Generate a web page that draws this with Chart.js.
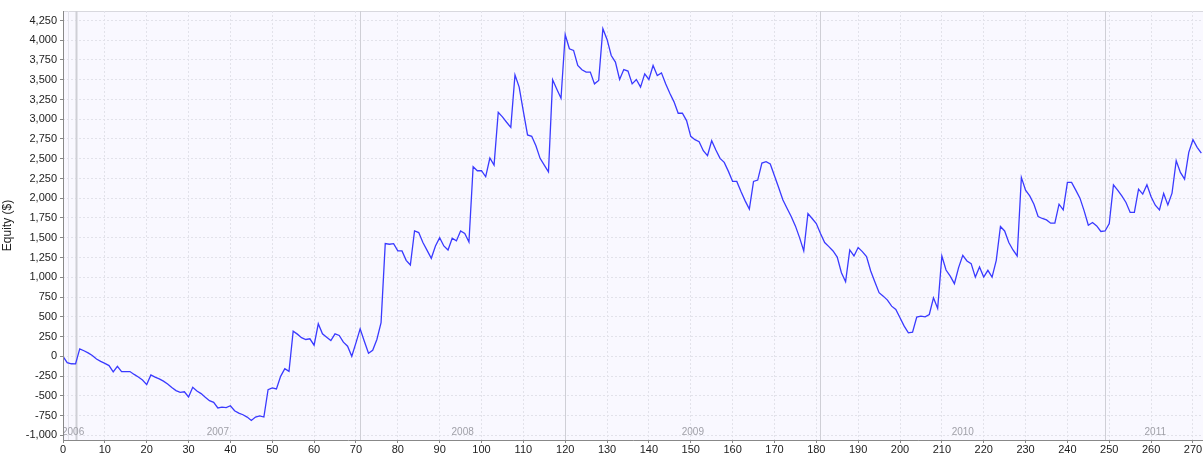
<!DOCTYPE html>
<html>
<head>
<meta charset="utf-8">
<script src="https://cdn.jsdelivr.net/npm/chart.js@4"></script>
<style>
  html, body { margin: 0; padding: 0; background: #fff; }
  #wrap { width: 1203px; height: 456px; }
</style>
</head>
<body>
<div id="wrap"><canvas id="equityChart"></canvas></div>
<script>
// equity per trade
const equity = [
    0, -80, -95, -97, 94, 70, 43, 10, -35, -65,
    -90, -118, -198, -127, -194, -194, -194, -230, -262, -300,
    -359, -236, -265, -287, -315, -350, -395, -435, -457, -450,
    -515, -393, -440, -473, -520, -562, -584, -655, -645, -650,
    -626, -690, -720, -740, -770, -812, -770, -755, -769, -423,
    -401, -414, -254, -156, -190, 317, 280, 235, 212, 221,
    140, 411, 284, 240, 199, 284, 263, 178, 127, 0,
    170, 347, 190, 38, 76, 212, 424, 1426, 1418, 1426,
    1333, 1333, 1214, 1155, 1586, 1566, 1439, 1340, 1240, 1396,
    1502, 1396, 1345, 1494, 1460, 1586, 1553, 1447, 2398, 2348,
    2348, 2272, 2509, 2420, 3089, 3030, 2962, 2898, 3562, 3406,
    3100, 2801, 2784, 2665, 2505, 2420, 2335, 3499, 3380, 3266,
    4070, 3892, 3871, 3680, 3626, 3597, 3597, 3448, 3490, 4146,
    4010, 3807, 3723, 3503, 3629, 3609, 3448, 3503, 3406, 3575,
    3503, 3680, 3553, 3587, 3448, 3330, 3220, 3076, 3076, 2983,
    2784, 2741, 2716, 2601, 2538, 2728, 2610, 2505, 2454, 2340,
    2213, 2213, 2086, 1967, 1862, 2213, 2230, 2445, 2462, 2433,
    2284, 2137, 1980, 1874, 1769, 1650, 1502, 1333, 1807, 1744,
    1680, 1553, 1439, 1388, 1333, 1256, 1058, 944, 1345, 1269,
    1376, 1325, 1261, 1079, 939, 805, 761, 711, 634, 593,
    487, 381, 296, 305, 495, 508, 499, 529, 740, 605,
    1269, 1091, 1015, 919, 1122, 1278, 1206, 1172, 1002, 1129,
    1002, 1088, 1002, 1214, 1642, 1586, 1439, 1345, 1269, 2264,
    2103, 2030, 1925, 1769, 1744, 1726, 1684, 1684, 1925, 1853,
    2200, 2200, 2103, 2001, 1840, 1659, 1693, 1650, 1579, 1586,
    1680, 2170, 2103, 2030, 1946, 1820, 1820, 2115, 2052, 2170,
    2018, 1912, 1853, 2061, 1916, 2065, 2475, 2327, 2242, 2581,
    2741, 2645, 2572
];

// axis ticks
const yTicks = [-1000, -750, -500, -250, 0, 250, 500, 750, 1000, 1250, 1500, 1750, 2000,
    2250, 2500, 2750, 3000, 3250, 3500, 3750, 4000, 4250];
const xTicks = [0, 10, 20, 30, 40, 50, 60, 70, 80, 90, 100, 110, 120, 130, 140, 150, 160,
    170, 180, 190, 200, 210, 220, 230, 240, 250, 260, 270];

// trade index where each year starts
const yearStarts = [0, 3, 71, 120, 181, 249];
const yearNames = ["2006", "2007", "2008", "2009", "2010", "2011"];
const yearLines = [1.2, 3, 71, 120, 181, 249];

const xMax = 272.4;
const fontFamily = "'Liberation Sans', Arial, sans-serif";

// Year markers plugin
const yearMarkers = {
    id: "yearMarkers",
    beforeDatasetsDraw(chart) {
        const { ctx, chartArea, scales } = chart;
        const x = scales.x;
        ctx.save();
        ctx.beginPath();
        ctx.rect(chartArea.left, chartArea.top, chartArea.right - chartArea.left, chartArea.bottom - chartArea.top);
        ctx.clip();

        yearLines.forEach(v => {
            const px = Math.round(x.getPixelForValue(v)) + 0.5;
            ctx.strokeStyle = v === 1.2 ? "#e2e2ea" : "#cfcfd6";
            ctx.lineWidth = v === 3 ? 2 : 1;
            ctx.beginPath();
            ctx.moveTo(px, chartArea.top);
            ctx.lineTo(px, chartArea.bottom);
            ctx.stroke();
        });

        ctx.fillStyle = "#a0a0a8";
        ctx.font = "10px " + fontFamily;
        ctx.textAlign = "center";
        ctx.textBaseline = "alphabetic";
        yearNames.forEach((name, i) => {
            const end = i + 1 < yearStarts.length ? yearStarts[i + 1] : 273;
            const w = ctx.measureText(name).width;
            let px = x.getPixelForValue((yearStarts[i] + end) / 2);
            px = Math.max(px, chartArea.left + w / 2 - 1);
            ctx.fillText(name, px, chartArea.bottom - 5);
        });
        ctx.restore();
    },
    afterDraw(chart) {
        // solid axis lines (grid dashes would otherwise apply)
        const { ctx, chartArea } = chart;
        ctx.save();
        ctx.strokeStyle = "#888";
        ctx.lineWidth = 1;
        ctx.setLineDash([]);
        ctx.beginPath();
        ctx.moveTo(chartArea.left + 0.5, chartArea.top);
        ctx.lineTo(chartArea.left + 0.5, chartArea.bottom + 0.5);
        ctx.lineTo(chartArea.right, chartArea.bottom + 0.5);
        ctx.stroke();
        ctx.restore();
    }
};

const plotBackground = {
    id: "plotBackground",
    beforeDraw(chart) {
        const { ctx, chartArea } = chart;
        ctx.save();
        ctx.fillStyle = "#f9f8ff";
        ctx.fillRect(chartArea.left, chartArea.top, chartArea.right - chartArea.left, chartArea.bottom - chartArea.top);
        ctx.strokeStyle = "#d8d8de";
        ctx.lineWidth = 1;
        ctx.beginPath();
        ctx.moveTo(chartArea.left, chartArea.top + 0.5);
        ctx.lineTo(chartArea.right, chartArea.top + 0.5);
        ctx.stroke();
        ctx.restore();
    }
};

const ctx = document.getElementById("equityChart").getContext("2d");
new Chart(ctx, {
    type: "line",
    data: {
        datasets: [{
            data: equity.map((v, i) => ({ x: i, y: v })),
            borderColor: "#3a3aff",
            borderWidth: 1.3,
            pointRadius: 0,
            tension: 0,
            fill: false
        }]
    },
    options: {
        responsive: true,
        maintainAspectRatio: false,
        animation: false,
        events: [],
        layout: { padding: { top: 11, right: 0, left: 0, bottom: 0 } },
        plugins: {
            legend: { display: false },
            tooltip: { enabled: false }
        },
        scales: {
            x: {
                type: "linear",
                min: 0,
                max: xMax,
                afterFit(scale) { scale.height = 16; },
                afterBuildTicks(scale) { scale.ticks = xTicks.map(v => ({ value: v })); },
                ticks: {
                    autoSkip: false,
                    maxRotation: 0,
                    padding: 0,
                    color: "#222",
                    font: { family: fontFamily, size: 11 }
                },
                grid: {
                    color: "#e2e2ea",
                    tickColor: "#888",
                    tickLength: 3,
                    tickBorderDash: []
                },
                border: { display: false, dash: [2, 2] }
            },
            y: {
                min: -1060,
                max: 4370,
                afterFit(scale) { scale.width = 63; },
                afterBuildTicks(scale) { scale.ticks = yTicks.map(v => ({ value: v })); },
                ticks: {
                    autoSkip: false,
                    padding: 3,
                    color: "#222",
                    font: { family: fontFamily, size: 11 },
                    callback: v => v.toLocaleString("en-US")
                },
                grid: {
                    color: "#e2e2ea",
                    tickColor: "#888",
                    tickLength: 3,
                    tickBorderDash: []
                },
                border: { display: false, dash: [2, 2] },
                title: {
                    display: true,
                    text: "Equity ($)",
                    color: "#222",
                    padding: { top: 0, bottom: 2 },
                    font: { family: fontFamily, size: 12 }
                }
            }
        }
    },
    plugins: [plotBackground, yearMarkers]
});
</script>
</body>
</html>
